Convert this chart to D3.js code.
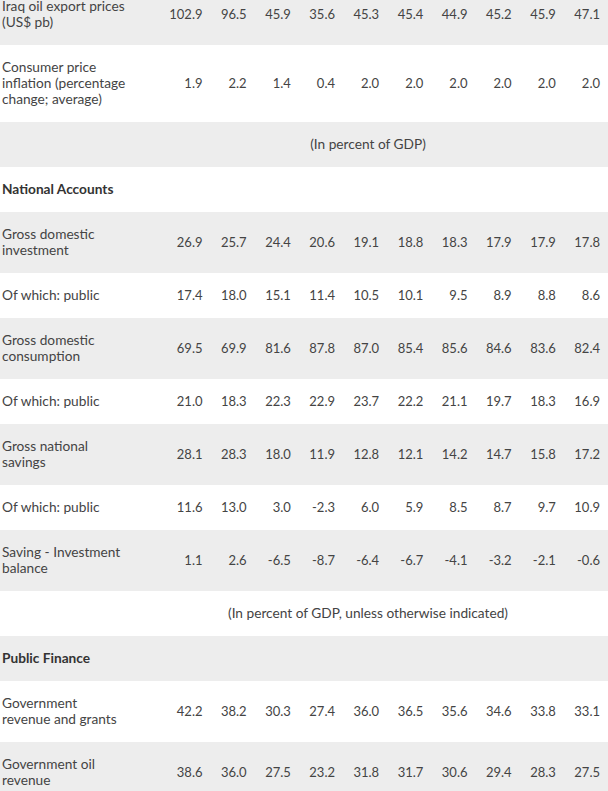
<!DOCTYPE html>
<html>
<head>
<meta charset="utf-8">
<script src="https://cdn.jsdelivr.net/npm/d3@7"></script>
<style>
  html, body { margin: 0; padding: 0; background: #fff; }
  svg text { font-family: Lato, "Open Sans", sans-serif; fill: #444444; }
</style>
</head>
<body>
<div id="chart"></div>
<script>
// row labels, one entry per visible line of the label cell
let rowLabels = [
	["Iraq oil export prices", "(US$ pb)"],
	["Consumer price", "inflation (percentage", "change; average)"],
	["(In percent of GDP)"],
	["National Accounts"],
	["Gross domestic", "investment"],
	["Of which: public"],
	["Gross domestic", "consumption"],
	["Of which: public"],
	["Gross national", "savings"],
	["Of which: public"],
	["Saving - Investment", "balance"],
	["(In percent of GDP, unless otherwise indicated)"],
	["Public Finance"],
	["Government", "revenue and grants"],
	["Government oil", "revenue"]
]

// data = numbers, note = centred unit line, head = bold section title
let rowKinds = ["data", "data", "note", "head", "data", "data", "data", "data",
	"data", "data", "data", "note", "head", "data", "data"]

let rowValues = [
	[102.9, 96.5, 45.9, 35.6, 45.3, 45.4, 44.9, 45.2, 45.9, 47.1],
	[1.9, 2.2, 1.4, 0.4, 2.0, 2.0, 2.0, 2.0, 2.0, 2.0],
	null,
	null,
	[26.9, 25.7, 24.4, 20.6, 19.1, 18.8, 18.3, 17.9, 17.9, 17.8],
	[17.4, 18.0, 15.1, 11.4, 10.5, 10.1, 9.5, 8.9, 8.8, 8.6],
	[69.5, 69.9, 81.6, 87.8, 87.0, 85.4, 85.6, 84.6, 83.6, 82.4],
	[21.0, 18.3, 22.3, 22.9, 23.7, 22.2, 21.1, 19.7, 18.3, 16.9],
	[28.1, 28.3, 18.0, 11.9, 12.8, 12.1, 14.2, 14.7, 15.8, 17.2],
	[11.6, 13.0, 3.0, -2.3, 6.0, 5.9, 8.5, 8.7, 9.7, 10.9],
	[1.1, 2.6, -6.5, -8.7, -6.4, -6.7, -4.1, -3.2, -2.1, -0.6],
	null,
	null,
	[42.2, 38.2, 30.3, 27.4, 36.0, 36.5, 35.6, 34.6, 33.8, 33.1],
	[38.6, 36.0, 27.5, 23.2, 31.8, 31.7, 30.6, 29.4, 28.3, 27.5]
]

let width = 608
let height = 791

let lineHeight = 16
let rowPad = 29
let labelColEnd = 128
let labelSize = 13.7
let valueSize = 13

let fmt = d3.formatLocale({decimal: ".", thousands: ",", grouping: [3], currency: ["", ""], minus: "-"}).format(".1f")

// right edge of each numeric column
let x = d3.scaleLinear()
	.domain([0, 9])
	.range([202.5, 600])

// row tops, the first row is partly scrolled out of view
let rows = []
let rowTop = -16
rowLabels.forEach((lines, i) => {
	let numLines = rowKinds[i] == "data" ? lines.length : 1
	let h = rowPad + numLines * lineHeight
	rows.push({lines, kind: rowKinds[i], values: rowValues[i], y: rowTop, h, i})
	rowTop += h
})

let svg = d3.select("#chart")
.append("svg")
.attr("width", width)
.attr("height", height)
.style("display", "block")

let rowG = svg.selectAll("g.row")
.data(rows)
.join("g")
.attr("class", "row")
.attr("transform", d => "translate(0," + d.y + ")")

rowG.append("rect")
.attr("width", width)
.attr("height", d => d.h)
.attr("fill", d => d.i % 2 == 0 ? "#ededed" : "#ffffff")

// label cells
rowG.filter(d => d.kind != "note")
.append("text")
.attr("x", 2)
.attr("font-size", labelSize)
.attr("font-weight", d => d.kind == "head" ? 700 : 400)
.style("fill", d => d.kind == "head" ? "#333333" : null)
.selectAll("tspan")
.data(d => d.lines.map((t, j) => ({t, j, n: d.lines.length, h: d.h})))
.join("tspan")
.attr("x", 2)
.attr("y", d => d.h / 2 + (d.j - (d.n - 1) / 2) * lineHeight)
.attr("dy", "0.35em")
.text(d => d.t)

// centred unit notes spanning the value columns
rowG.filter(d => d.kind == "note")
.append("text")
.attr("x", (labelColEnd + width) / 2)
.attr("y", d => d.h / 2)
.attr("dy", "0.35em")
.attr("text-anchor", "middle")
.attr("font-size", labelSize)
.text(d => d.lines[0])

// numeric cells
rowG.filter(d => d.kind == "data")
.selectAll("text.val")
.data(d => d.values.map((v, j) => ({v, j, h: d.h})))
.join("text")
.attr("class", "val")
.attr("x", d => x(d.j))
.attr("y", d => d.h / 2)
.attr("dy", "0.35em")
.attr("text-anchor", "end")
.attr("font-size", valueSize)
.text(d => fmt(d.v))
</script>
</body>
</html>
